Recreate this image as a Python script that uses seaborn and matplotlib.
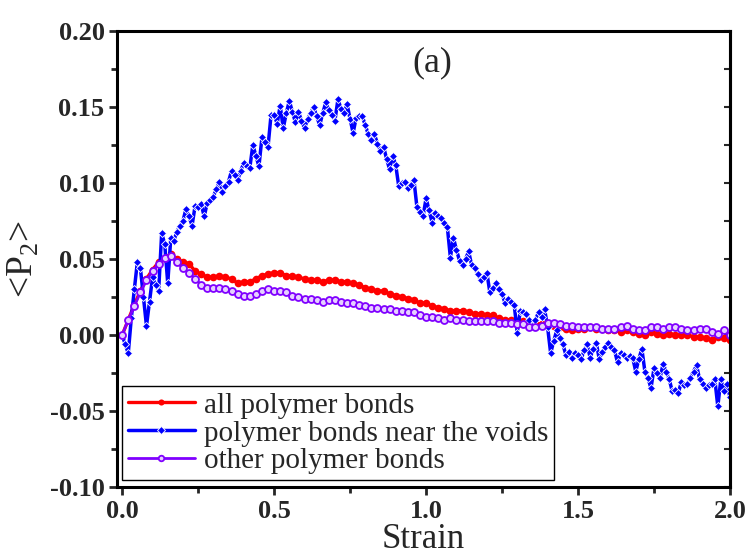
import numpy as np
import matplotlib
matplotlib.use("Agg")
import matplotlib.pyplot as plt
import seaborn as sns

# strain grids
strain_fine = np.round(np.linspace(0.0, 2.0, 201), 2)
strain = np.round(np.linspace(0.0, 2.0, 101), 2)

# <P2> for polymer bonds near the voids (every 0.01 strain)
p2_voids = [
    0.000, -0.006, -0.012, 0.011, 0.030, 0.048, 0.044, 0.025, 0.006, 0.022,
    0.038, 0.033, 0.029, 0.067, 0.060, 0.034, 0.064, 0.062, 0.068, 0.072,
    0.075, 0.083, 0.078, 0.072, 0.085, 0.084, 0.086, 0.078, 0.087, 0.089,
    0.091, 0.096, 0.101, 0.094, 0.098, 0.101, 0.108, 0.105, 0.102, 0.108,
    0.113, 0.111, 0.110, 0.125, 0.118, 0.111, 0.130, 0.127, 0.124, 0.145,
    0.145, 0.139, 0.151, 0.136, 0.146, 0.154, 0.147, 0.140, 0.147, 0.141,
    0.136, 0.142, 0.146, 0.150, 0.144, 0.138, 0.146, 0.153, 0.148, 0.145,
    0.141, 0.155, 0.149, 0.146, 0.152, 0.142, 0.133, 0.143, 0.144, 0.144,
    0.138, 0.132, 0.128, 0.132, 0.126, 0.121, 0.124, 0.116, 0.109, 0.118,
    0.112, 0.098, 0.100, 0.101, 0.097, 0.099, 0.102, 0.084, 0.081, 0.078,
    0.090, 0.082, 0.074, 0.080, 0.078, 0.077, 0.074, 0.071, 0.051, 0.064,
    0.056, 0.049, 0.046, 0.050, 0.055, 0.046, 0.044, 0.040, 0.036, 0.038,
    0.041, 0.028, 0.031, 0.034, 0.030, 0.027, 0.021, 0.024, 0.022, 0.020,
    0.0015, 0.016, 0.015, 0.014, 0.010, 0.006, 0.010, 0.015, 0.012, 0.017,
    0.005, -0.012, -0.004, 0.003, -0.002, -0.006, -0.013, -0.011, -0.015, -0.012,
    -0.013, -0.016, -0.010, -0.006, -0.015, -0.009, -0.005, -0.016, -0.011, -0.008,
    -0.005, -0.008, -0.010, -0.018, -0.012, -0.013, -0.015, -0.014, -0.015, -0.024,
    -0.016, -0.009, -0.024, -0.028, -0.035, -0.022, -0.025, -0.028, -0.019, -0.024,
    -0.029, -0.037, -0.036, -0.038, -0.031, -0.033, -0.032, -0.028, -0.024, -0.020,
    -0.029, -0.032, -0.035, -0.033, -0.032, -0.029, -0.047, -0.029, -0.037, -0.032,
    -0.041,
]

# <P2> for all polymer bonds (every 0.02 strain)
p2_all = [
    0.000, 0.010, 0.020, 0.029, 0.037, 0.043, 0.048, 0.051, 0.053, 0.050,
    0.048, 0.047, 0.042, 0.040, 0.038, 0.038, 0.039, 0.038, 0.037, 0.034,
    0.035, 0.035, 0.037, 0.039, 0.040, 0.041, 0.041, 0.039, 0.039, 0.038,
    0.037, 0.036, 0.036, 0.035, 0.036, 0.036, 0.035, 0.035, 0.034, 0.033,
    0.031, 0.030, 0.029, 0.029, 0.027, 0.026, 0.025, 0.024, 0.023, 0.021,
    0.021, 0.019, 0.018, 0.017, 0.016, 0.016, 0.016, 0.015, 0.014, 0.014,
    0.013, 0.013, 0.011, 0.010, 0.010, 0.009, 0.009, 0.008, 0.008, 0.007,
    0.006, 0.006, 0.005, 0.004, 0.003, 0.004, 0.004, 0.005, 0.004, 0.004,
    0.003, 0.003, 0.002, 0.003, 0.002, 0.001, 0.000, 0.002, 0.001, 0.000,
    0.001, 0.000, 0.000, 0.000, -0.001, -0.001, -0.002, -0.003, -0.001, -0.002,
    -0.003,
]

# <P2> for other polymer bonds (every 0.02 strain)
p2_other = [
    0.000, 0.010, 0.019, 0.028, 0.036, 0.042, 0.047, 0.051, 0.052, 0.048,
    0.044, 0.041, 0.037, 0.033, 0.031, 0.031, 0.031, 0.030, 0.029, 0.027,
    0.026, 0.026, 0.027, 0.029, 0.030, 0.029, 0.029, 0.028, 0.026, 0.025,
    0.024, 0.024, 0.023, 0.022, 0.023, 0.023, 0.022, 0.021, 0.021, 0.020,
    0.019, 0.018, 0.018, 0.017, 0.017, 0.016, 0.016, 0.015, 0.015, 0.013,
    0.012, 0.012, 0.011, 0.010, 0.011, 0.010, 0.010, 0.009, 0.009, 0.009,
    0.009, 0.009, 0.008, 0.008, 0.008, 0.007, 0.007, 0.005, 0.005, 0.006,
    0.008, 0.008, 0.007, 0.006, 0.006, 0.005, 0.005, 0.005, 0.005, 0.004,
    0.004, 0.004, 0.005, 0.006, 0.004, 0.003, 0.003, 0.005, 0.005, 0.004,
    0.005, 0.005, 0.004, 0.003, 0.003, 0.004, 0.004, 0.002, 0.001, 0.003,
    0.000,
]

labels = ["all polymer bonds", "polymer bonds near the voids", "other polymer bonds"]
x_ticks = [0.0, 0.5, 1.0, 1.5, 2.0]
y_ticks = [-0.10, -0.05, 0.00, 0.05, 0.10, 0.15, 0.20]

sns.set_style("ticks")
plt.rcParams["font.family"] = ["Liberation Serif", "DejaVu Serif"]
plt.rcParams["mathtext.fontset"] = "custom"
plt.rcParams["mathtext.rm"] = "Liberation Serif"

fig = plt.figure(figsize=(7.5, 5.56), dpi=100)
ax = fig.add_axes([0.156, 0.124, 0.8173, 0.8202])

sns.lineplot(x=strain, y=p2_all, ax=ax, color="#ff0000", linewidth=2.4,
             marker="o", markersize=5.5, markeredgewidth=0, estimator=None,
             label=labels[0])
sns.lineplot(x=strain_fine, y=p2_voids, ax=ax, color="#0000ff", linewidth=2.5,
             marker="D", markersize=4.5, markeredgewidth=0.6, estimator=None,
             label=labels[1])
sns.lineplot(x=strain, y=p2_other, ax=ax, color="#8000ff", linewidth=2.0,
             marker="o", markersize=5, markerfacecolor="#e6d0ff",
             markeredgecolor="#8000ff", markeredgewidth=1.3, estimator=None,
             label=labels[2])

ax.set_xlim(-0.017, 2.0)
ax.set_ylim(-0.10, 0.20)
ax.set_xticks(x_ticks)
ax.set_xticklabels([f"{v:.1f}" for v in x_ticks])
ax.set_yticks(y_ticks)
ax.set_yticklabels([f"{v:.2f}" for v in y_ticks])
ax.set_xticks([0.25, 0.75, 1.25, 1.75], minor=True)
ax.set_yticks([-0.075, -0.025, 0.025, 0.075, 0.125, 0.175], minor=True)

for lab in ax.get_xticklabels() + ax.get_yticklabels():
    lab.set_fontweight("bold")
    lab.set_fontsize(19)

ax.tick_params(which="major", direction="out", length=6, width=2, pad=3)
ax.tick_params(which="minor", direction="out", length=4, width=2)
for sp in ax.spines.values():
    sp.set_visible(True)
    sp.set_linewidth(2.2)
    sp.set_color("black")

# inward ticks on the right spine
ax_r = ax.secondary_yaxis("right")
ax_r.set_yticks(y_ticks)
ax_r.set_yticks([-0.075, -0.025, 0.025, 0.075, 0.125, 0.175], minor=True)
ax_r.set_yticklabels([])
ax_r.tick_params(which="both", direction="in", length=4, width=1.5)
ax_r.spines["right"].set_linewidth(2.2)

ax.set_xlabel("Strain", fontsize=25, labelpad=0)
ax.set_ylabel(r"<P$_\mathregular{2}$>", fontsize=27, labelpad=6)

ax.text(0.515, 0.93, "(a)", transform=ax.transAxes, fontsize=26,
        ha="center", va="center")

leg = ax.legend(loc="lower left", bbox_to_anchor=(0.008, 0.015),
                borderaxespad=0, fontsize=21, frameon=True, fancybox=False,
                edgecolor="black", framealpha=1, handlelength=2.3,
                handletextpad=0.3, labelspacing=0.05, borderpad=0.2,
                markerscale=0.8)
leg.get_frame().set_linewidth(1.0)

fig.savefig("out.png", dpi=100)
